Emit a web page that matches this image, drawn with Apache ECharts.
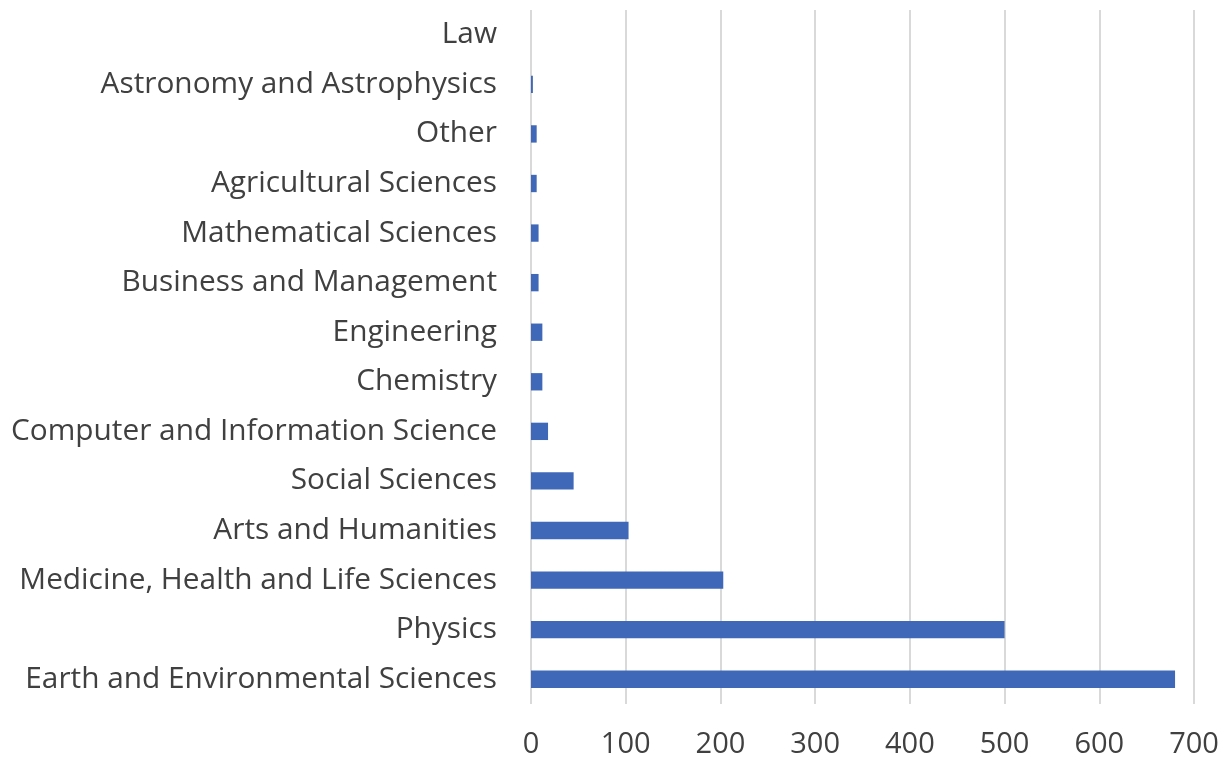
<!DOCTYPE html>
<html>
<head>
<meta charset="utf-8">
<script src="https://cdn.jsdelivr.net/npm/echarts@6/dist/echarts.min.js"></script>
<style>html,body{margin:0;padding:0;background:#fff;}#c{width:1223px;height:760px;}</style>
</head>
<body>
<div id="c"></div>
<script>
const categories = [
  "Earth and Environmental Sciences",
  "Physics",
  "Medicine, Health and Life Sciences",
  "Arts and Humanities",
  "Social Sciences",
  "Computer and Information Science",
  "Chemistry",
  "Engineering",
  "Business and Management",
  "Mathematical Sciences",
  "Agricultural Sciences",
  "Other",
  "Astronomy and Astrophysics",
  "Law"
];
const values = [680, 500, 203, 103, 45, 18, 12, 12, 8, 8, 6, 6, 2, 0];
const xTicks = [0, 100, 200, 300, 400, 500, 600, 700];

const chart = echarts.init(document.getElementById('c'));
chart.setOption({
  animation: false,
  grid: { left: 531, right: 29, top: 10, bottom: 56, containLabel: false },
  xAxis: {
    type: 'value', min: xTicks[0], max: xTicks[xTicks.length - 1], interval: 100,
    axisLine: { show: false }, axisTick: { show: false },
    splitLine: { lineStyle: { color: '#d9d9d9', width: 2 } },
    axisLabel: { fontFamily: 'Open Sans', fontSize: 29, color: '#404040', margin: 26 }
  },
  yAxis: {
    type: 'category', data: categories,
    axisLine: { show: false }, axisTick: { show: false },
    axisLabel: { fontFamily: 'Open Sans', fontSize: 29.8, color: '#404040', margin: 34 }
  },
  series: [{
    type: 'bar', data: values, barCategoryGap: '65%',
    itemStyle: { color: '#4068b8' }
  }]
});
</script>
</body>
</html>
